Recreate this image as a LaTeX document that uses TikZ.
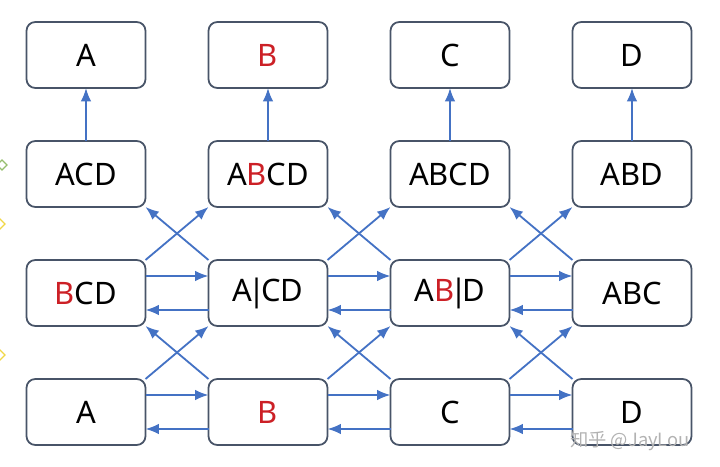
\documentclass[tikz,border=0pt]{standalone}
\usepackage{fontspec}
\setmainfont{Noto Sans}
\newfontfamily\cjk{Noto Sans CJK SC}
\usepackage{tikz}
\usetikzlibrary{arrows.meta,positioning}

\definecolor{boxline}{RGB}{72,84,104}
\definecolor{flowblue}{RGB}{68,114,196}
\definecolor{redB}{RGB}{204,32,38}
\definecolor{markgreen}{RGB}{150,190,110}
\definecolor{markyellow}{RGB}{240,215,70}
\newcommand{\rB}{\textcolor{redB}{B}}
\newcommand{\vbar}{\kern-3pt|\kern-3pt}

\begin{document}
\begin{tikzpicture}[->, >= {Latex[length=9.5pt,width=7.5pt]}, auto, node distance = 1.325cm and 1.575cm, semithick]
\tikzstyle{block}=[draw=boxline, line width=1.25pt, rounded corners=0.22cm, minimum width=2.975cm, minimum height=1.65cm, outer sep=0pt, text=black, font=\fontsize{22}{26}\selectfont]
\tikzstyle{flow}=[color=flowblue, line width=1.3pt]

\useasboundingbox (0,0) rectangle (18,-11.675);

% top row
\node[block]	(t1) at (2.15,-1.375)	{A};
\node[block]	(t2) [right=of t1]	{\rB};
\node[block]	(t3) [right=of t2]	{C};
\node[block]	(t4) [right=of t3]	{D};
% second row
\node[block]	(u1) [below=of t1]	{ACD};
\node[block]	(u2) [below=of t2]	{A\rB CD};
\node[block]	(u3) [below=of t3]	{ABCD};
\node[block]	(u4) [below=of t4]	{ABD};
% third row
\node[block]	(m1) [below=of u1]	{\rB CD};
\node[block]	(m2) [below=of u2]	{A\vbar CD};
\node[block]	(m3) [below=of u3]	{A\rB\vbar D};
\node[block]	(m4) [below=of u4]	{ABC};
% bottom row
\node[block]	(b1) [below=of m1]	{A};
\node[block]	(b2) [below=of m2]	{\rB};
\node[block]	(b3) [below=of m3]	{C};
\node[block]	(b4) [below=of m4]	{D};

\path[flow]
	(u1.north)	edge	(t1.south)
	(u2.north)	edge	(t2.south)
	(u3.north)	edge	(t3.south)
	(u4.north)	edge	(t4.south)
	% crossings up to the second row
	(m1.north east)	edge	(u2.south west)
	(m2.north west)	edge	(u1.south east)
	(m2.north east)	edge	(u3.south west)
	(m3.north west)	edge	(u2.south east)
	(m3.north east)	edge	(u4.south west)
	(m4.north west)	edge	(u3.south east)
	% crossings up to the third row
	(b1.north east)	edge	(m2.south west)
	(b2.north west)	edge	(m1.south east)
	(b2.north east)	edge	(m3.south west)
	(b3.north west)	edge	(m2.south east)
	(b3.north east)	edge	(m4.south west)
	(b4.north west)	edge	(m3.south east)
	% third row, both ways
	([yshift=0.425cm]m1.east)	edge	([yshift=0.425cm]m2.west)
	([yshift=-0.425cm]m2.west)	edge	([yshift=-0.425cm]m1.east)
	([yshift=0.425cm]m2.east)	edge	([yshift=0.425cm]m3.west)
	([yshift=-0.425cm]m3.west)	edge	([yshift=-0.425cm]m2.east)
	([yshift=0.425cm]m3.east)	edge	([yshift=0.425cm]m4.west)
	([yshift=-0.425cm]m4.west)	edge	([yshift=-0.425cm]m3.east)
	% bottom row, both ways
	([yshift=0.425cm]b1.east)	edge	([yshift=0.425cm]b2.west)
	([yshift=-0.425cm]b2.west)	edge	([yshift=-0.425cm]b1.east)
	([yshift=0.425cm]b2.east)	edge	([yshift=0.425cm]b3.west)
	([yshift=-0.425cm]b3.west)	edge	([yshift=-0.425cm]b2.east)
	([yshift=0.425cm]b3.east)	edge	([yshift=0.425cm]b4.west)
	([yshift=-0.425cm]b4.west)	edge	([yshift=-0.425cm]b3.east)
;

% cut-off marks on the left edge
\draw[-, markgreen, line width=0.8pt] (0.175,-4.125) -- (0.05,-4.0) -- (-0.075,-4.125) -- (0.05,-4.25) -- cycle;
\draw[-, markyellow, line width=0.8pt] (0.125,-5.6) -- (0,-5.475) -- (-0.125,-5.6) -- (0,-5.725) -- cycle;
\draw[-, markyellow, line width=0.8pt] (0.125,-8.875) -- (0,-8.75) -- (-0.125,-8.875) -- (0,-9.0) -- cycle;

\node[text=black!30, inner sep=0pt, font=\cjk\fontsize{13}{15}\selectfont] (mark) at (15.75,-11.02) {知乎 @JayLou};

\end{tikzpicture}
\end{document}
